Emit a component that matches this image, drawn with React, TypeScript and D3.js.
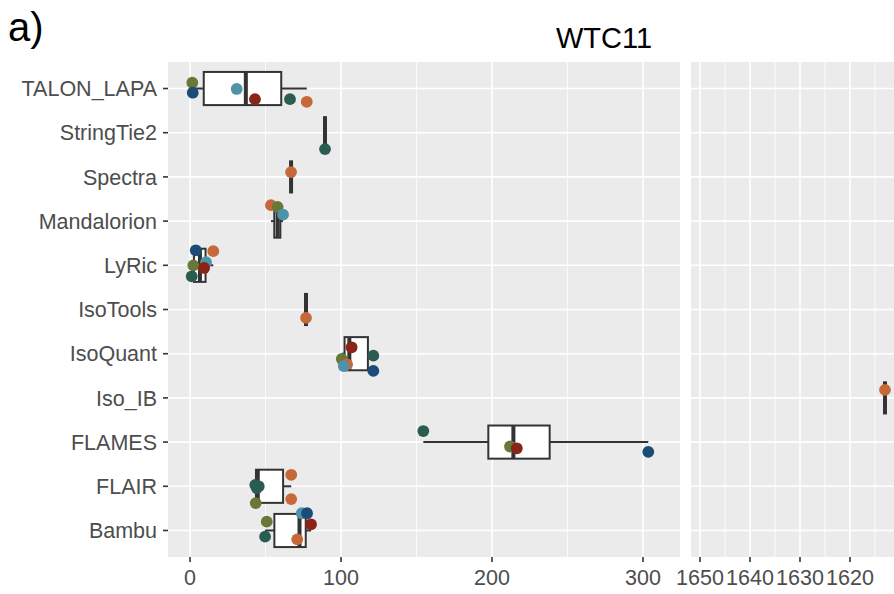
import React from "react";
import * as d3 from "d3";

// Methods, top to bottom
const methods = [
  "TALON_LAPA", "StringTie2", "Spectra", "Mandalorion", "LyRic", "IsoTools",
  "IsoQuant", "Iso_IB", "FLAMES", "FLAIR", "Bambu",
];

// Sample colour keys
const sampleKeys = ["olive", "navy", "sky", "brick", "pine", "rust"];
const sampleColors = ["#687839", "#1b4c78", "#4f93aa", "#8a2417", "#2a5c51", "#c7683a"];

// One entry per observation: method, sample, value, vertical jitter (in row units)
const obsMethod = [
  "TALON_LAPA", "TALON_LAPA", "TALON_LAPA", "TALON_LAPA", "TALON_LAPA", "TALON_LAPA",
  "StringTie2",
  "Spectra",
  "Mandalorion", "Mandalorion", "Mandalorion",
  "LyRic", "LyRic", "LyRic", "LyRic", "LyRic", "LyRic",
  "IsoTools",
  "IsoQuant", "IsoQuant", "IsoQuant", "IsoQuant", "IsoQuant", "IsoQuant",
  "Iso_IB",
  "FLAMES", "FLAMES", "FLAMES", "FLAMES",
  "FLAIR", "FLAIR", "FLAIR", "FLAIR", "FLAIR", "FLAIR",
  "Bambu", "Bambu", "Bambu", "Bambu", "Bambu", "Bambu",
];
const obsSample = [
  "olive", "navy", "sky", "brick", "pine", "rust",
  "pine",
  "rust",
  "rust", "olive", "sky",
  "navy", "rust", "olive", "sky", "brick", "pine",
  "rust",
  "brick", "pine", "olive", "rust", "sky", "navy",
  "rust",
  "pine", "olive", "brick", "navy",
  "rust", "pine", "pine", "pine", "olive", "rust",
  "sky", "navy", "brick", "olive", "pine", "rust",
];
const obsValue = [
  1.5, 1.8, 30.9, 43.0, 66.2, 77.3,
  89.4,
  66.9,
  53.6, 58.0, 61.6,
  3.8, 15.4, 2.2, 10.6, 9.3, 1.1,
  76.8,
  107.0, 121.4, 100.5, 104.0, 101.8, 121.4,
  1613,
  154.5, 211.9, 216.4, 303.5,
  67.0, 43.2, 45.5, 44.2, 43.5, 67.0,
  74.0, 77.5, 80.1, 50.8, 49.7, 71.0,
];
const obsJitter = [
  -0.13, 0.095, 0.01, 0.24, 0.24, 0.3,
  0.37,
  -0.11,
  -0.36, -0.32, -0.145,
  -0.34, -0.32, 0.0, -0.07, 0.06, 0.25,
  0.19,
  -0.145, 0.045, 0.12, 0.24, 0.28, 0.39,
  -0.18,
  -0.25, 0.1, 0.14, 0.22,
  -0.26, -0.03, 0.0, 0.04, 0.38, 0.29,
  -0.39, -0.39, -0.14, -0.2, 0.14, 0.2,
];

// Axis breaks for the two segments of the broken value axis
const leftTicks = [0, 100, 200, 300];
const leftMinor = [50, 150, 250];
const leftDomain = [-14.6, 324.5];
const rightTicks = [1650, 1640, 1630, 1620];
const rightMinor = [1645, 1635, 1625, 1615];
const rightDomain = [1651.8, 1611];
const breakAt = 1000;

const W = 894;
const H = 594;
const panelTop = 62;
const panelBottom = 557;
const leftPanel = [168, 680];
const rightPanel = [691, 895];

const textColor = "#4d4d4d";
const font = "'Liberation Sans', Arial, Helvetica, sans-serif";

type Obs = { method: string; sample: string; value: number; jitter: number };

export default function App() {
  const obs: Obs[] = obsMethod.map((m, i) => ({
    method: m,
    sample: obsSample[i],
    value: obsValue[i],
    jitter: obsJitter[i],
  }));

  const y = d3.scalePoint<string>().domain(methods).range([panelTop, panelBottom]).padding(0.6);
  const step = y.step();
  const boxH = step * 0.75;
  const xl = d3.scaleLinear().domain(leftDomain).range(leftPanel);
  const xr = d3.scaleLinear().domain(rightDomain).range(rightPanel);
  const color = d3.scaleOrdinal<string, string>().domain(sampleKeys).range(sampleColors);

  const stats = methods.map((m) => {
    const vals = obs.filter((o) => o.method === m).map((o) => o.value).sort(d3.ascending);
    return {
      method: m,
      min: d3.min(vals)!,
      q1: d3.quantileSorted(vals, 0.25)!,
      med: d3.quantileSorted(vals, 0.5)!,
      q3: d3.quantileSorted(vals, 0.75)!,
      max: d3.max(vals)!,
    };
  });

  const panels = [
    { x: xl, range: leftPanel, ticks: leftTicks, minor: leftMinor, inPanel: (v: number) => v < breakAt, id: "pl" },
    { x: xr, range: rightPanel, ticks: rightTicks, minor: rightMinor, inPanel: (v: number) => v >= breakAt, id: "pr" },
  ];

  const lw = 2;

  return (
    <svg width={W} height={H} style={{ position: "absolute", left: 0, top: 0, background: "#fff" }} fontFamily={font}>
      <defs>
        {panels.map((p) => (
          <clipPath id={p.id} key={p.id}>
            <rect x={p.range[0]} y={panelTop} width={p.range[1] - p.range[0]} height={panelBottom - panelTop} />
          </clipPath>
        ))}
      </defs>

      <text x={8} y={41} fontSize={40} fill="#000">a)</text>
      <text x={604} y={48} fontSize={29} fill="#000" textAnchor="middle">WTC11</text>

      {panels.map((p) => (
        <g key={p.id}>
          <rect x={p.range[0]} y={panelTop} width={p.range[1] - p.range[0]} height={panelBottom - panelTop} fill="#ebebeb" />
          <g clipPath={`url(#${p.id})`}>
            {p.minor.map((t) => (
              <line key={"m" + t} x1={p.x(t)} x2={p.x(t)} y1={panelTop} y2={panelBottom} stroke="#fff" strokeWidth={0.8} />
            ))}
            {p.ticks.map((t) => (
              <line key={"t" + t} x1={p.x(t)} x2={p.x(t)} y1={panelTop} y2={panelBottom} stroke="#fff" strokeWidth={1.6} />
            ))}
            {methods.map((m) => (
              <line key={m} x1={p.range[0]} x2={p.range[1]} y1={y(m)} y2={y(m)} stroke="#fff" strokeWidth={1.6} />
            ))}

            {stats.filter((s) => p.inPanel(s.med)).map((s) => {
              const cy = y(s.method)!;
              const x1 = Math.min(p.x(s.q1), p.x(s.q3));
              const x2 = Math.max(p.x(s.q1), p.x(s.q3));
              return (
                <g key={s.method} stroke="#333333">
                  <line x1={p.x(s.min)} x2={x1} y1={cy} y2={cy} strokeWidth={lw} />
                  <line x1={x2} x2={p.x(s.max)} y1={cy} y2={cy} strokeWidth={lw} />
                  <rect x={x1} y={cy - boxH / 2} width={x2 - x1} height={boxH} fill="#fff" strokeWidth={lw} />
                  <line x1={p.x(s.med)} x2={p.x(s.med)} y1={cy - boxH / 2} y2={cy + boxH / 2} strokeWidth={lw * 2} />
                </g>
              );
            })}

            {obs.filter((o) => p.inPanel(o.value)).map((o, i) => (
              <circle
                key={i}
                cx={p.x(o.value)}
                cy={y(o.method)! + o.jitter * step}
                r={5.9}
                fill={color(o.sample)}
              />
            ))}
          </g>

          {p.ticks.map((t) => (
            <g key={"a" + t} transform={`translate(${p.x(t)},0)`}>
              <line y1={panelBottom} y2={panelBottom + 5} stroke="#333333" strokeWidth={1.6} />
              <text y={585} textAnchor="middle" fontSize={21.5} fill={textColor}>{t}</text>
            </g>
          ))}
        </g>
      ))}

      {methods.map((m) => (
        <g key={m} transform={`translate(0,${y(m)})`}>
          <line x1={163} x2={168} stroke="#333333" strokeWidth={1.6} />
          <text x={157} dy="0.36em" textAnchor="end" fontSize={21.5} fill={textColor}>{m}</text>
        </g>
      ))}
    </svg>
  );
}
